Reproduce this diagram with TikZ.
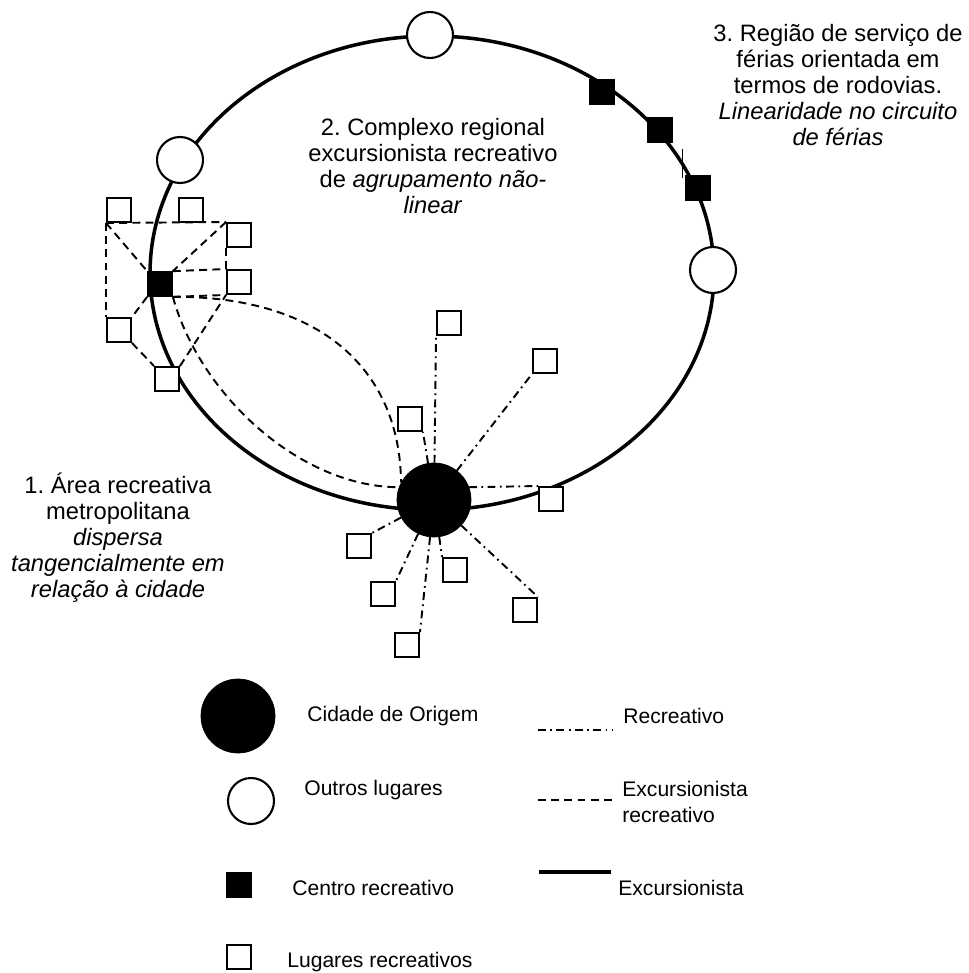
\documentclass[tikz,border=0pt]{standalone}
\usepackage{fontspec}
\setmainfont{Liberation Sans}
\frenchspacing

\begin{document}
\begin{tikzpicture}[x=0.02cm,y=-0.02cm,
lugar/.style={rectangle,draw,fill=white,line width=1.4pt,inner sep=0pt,minimum size=0.47cm},
centro/.style={rectangle,draw,fill=black,inner sep=0pt,minimum size=0.5cm},
outro/.style={circle,draw,fill=white,line width=1.2pt,inner sep=0pt,minimum size=0.92cm},
cidade/.style={circle,draw,fill=black,inner sep=0pt,minimum size=1.48cm},
recr/.style={line width=1.1pt,dash pattern=on 4.5pt off 2.5pt on 1pt off 2.5pt},
excrecr/.style={line width=1.1pt,dash pattern=on 4.5pt off 3pt},
excur/.style={line width=2pt},
rotulo/.style={font=\fontsize{12}{15.3}\selectfont,inner sep=0pt},
nota/.style={font=\fontsize{13.5}{14.8}\selectfont,inner sep=0pt,align=center}]
\useasboundingbox (0,0) rectangle (968,973);

\draw[excur] (432,273) ellipse [x radius=5.64cm, y radius=4.74cm];

\node[outro] at (430,35) (o1) {};
\node[outro] at (180,160) (o2) {};
\node[outro] at (713,270) (o3) {};
\node[centro] at (602,92) (r1) {};
\node[centro] at (660,130) (r2) {};
\node[centro] at (698,188) (r3) {};
\draw[thin] (682,149) -- (682,178);

\node[centro] at (160,284) (ce) {};
\node[lugar] at (119,210) (la) {};
\node[lugar] at (191,210) (lb) {};
\node[lugar] at (239,235) (lc) {};
\node[lugar] at (239,282) (ld) {};
\node[lugar] at (119,330) (lf) {};
\node[lugar] at (167,379) (lg) {};

\node[cidade] at (434,500) (city) {};
\node[lugar] at (449,323) (c1) {};
\node[lugar] at (545,361) (c2) {};
\node[lugar] at (410,419) (c3) {};
\node[lugar] at (551,499) (c4) {};
\node[lugar] at (359,546) (c5) {};
\node[lugar] at (383,594) (c6) {};
\node[lugar] at (455,570) (c7) {};
\node[lugar] at (525,610) (c8) {};
\node[lugar] at (407,645) (c9) {};

\draw[excrecr] (la.south west) -- (lc.north west);
\draw[excrecr] (la.south west) -- (lf.north west);
\draw[excrecr] (la.south west) -- (ce.north west);
\draw[excrecr] (lc.north west) -- (ce.north east);
\draw[excrecr] (lc.south west) -- (ld.north west);
\draw[excrecr] (ce.north east) -- (ld.north west);
\draw[excrecr] (ce.south east) -- (ld.south west);
\draw[excrecr] (ce.south west) -- (lf.north east);
\draw[excrecr] (lf.south east) -- (lg.north west);
\draw[excrecr] (lg.north east) -- (ld.south west);
\draw[excrecr] (ce.south east) .. controls (322,296) and (400,371) .. (city.152);
\draw[excrecr] (ce.south east) .. controls (200,395) and (300,487) .. (city.160);

\draw[recr] (city) -- (c1.south west);
\draw[recr] (city) -- (c2.south west);
\draw[recr] (city) -- (c3.south east);
\draw[recr] (city.20) -- (c4.north west);
\draw[recr] (city) -- (c5.north east);
\draw[recr] (city) -- (c6.north east);
\draw[recr] (city) -- (c7.north west);
\draw[recr] (city) -- (c8.north east);
\draw[recr] (city) -- (c9.north east);

\node[nota] at (838,85) (t3) {3. Região de serviço de\\férias orientada em\\termos de rodovias.\\\textit{Linearidade no circuito}\\\textit{de férias}};
\node[nota] at (433,166) (t2) {2. Complexo regional\\excursionista recreativo\\de \textit{agrupamento não-}\\\textit{linear}};
\node[nota] at (118,538) (t1) {1. Área recreativa\\metropolitana\\\textit{dispersa}\\\textit{tangencialmente em}\\\textit{relação à cidade}};

\node[cidade] at (238,716) (kcity) {};
\node[outro] at (251,801) (koutro) {};
\node[centro] at (239,885) (kcentro) {};
\node[lugar] at (239,957) (klugar) {};
\node[rotulo,anchor=west] at (307,716) (kt1) {Cidade de Origem};
\node[rotulo,anchor=west] at (304,790) (kt2) {Outros lugares};
\node[rotulo,anchor=west] at (292,888) (kt3) {Centro recreativo};
\node[rotulo,anchor=west] at (287,962) (kt4) {Lugares recreativos};

\draw[recr] (538,730) -- (612,730);
\draw[excrecr] (538,800) -- (612,800);
\draw[excur] (539,872) -- (611,872);
\node[rotulo,anchor=west] at (623,716) (kt5) {Recreativo};
\node[rotulo,anchor=west,align=left] at (622,802) (kt6) {Excursionista\\recreativo};
\node[rotulo,anchor=west] at (618,888) (kt7) {Excursionista};
\end{tikzpicture}
\end{document}
